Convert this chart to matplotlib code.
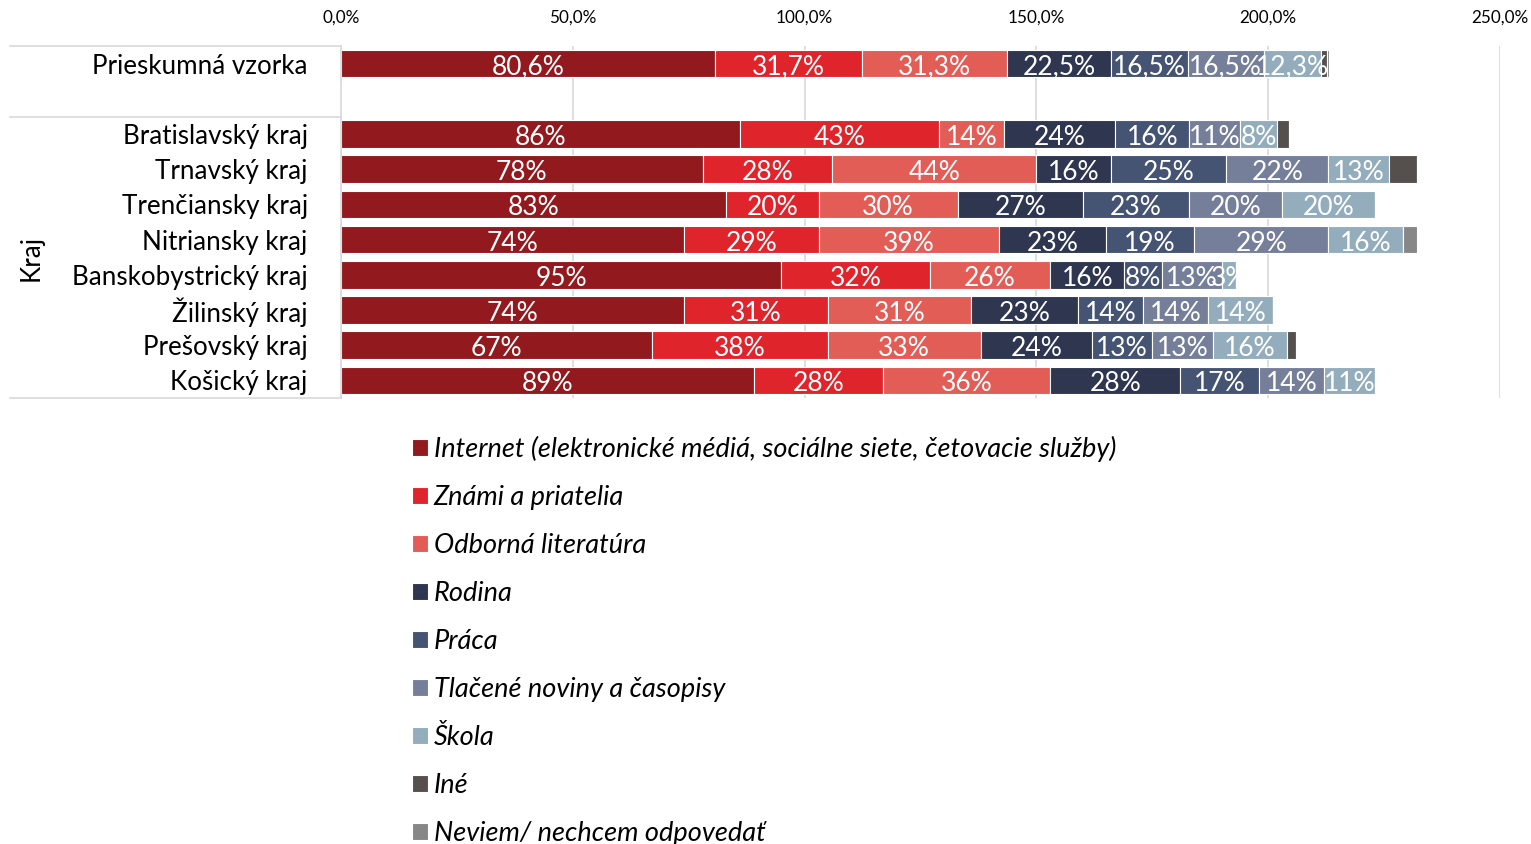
import numpy as np
import matplotlib
matplotlib.use('Agg')
import matplotlib.pyplot as plt
from matplotlib.lines import Line2D

plt.rcParams['font.family'] = ['Lato', 'DejaVu Sans']

regions = ["Prieskumná vzorka", "", "Bratislavský kraj", "Trnavský kraj", "Trenčiansky kraj",
           "Nitriansky kraj", "Banskobystrický kraj", "Žilinský kraj", "Prešovský kraj", "Košický kraj"]

series = ["Internet (elektronické médiá, sociálne siete, četovacie služby)", "Známi a priatelia",
          "Odborná literatúra", "Rodina", "Práca", "Tlačené noviny a časopisy", "Škola", "Iné",
          "Neviem/ nechcem odpovedať"]

internet = [80.6, 0, 86, 78, 83, 74, 95, 74, 67, 89]
znami = [31.7, 0, 43, 28, 20, 29, 32, 31, 38, 28]
odborna = [31.3, 0, 14, 44, 30, 39, 26, 31, 33, 36]
rodina = [22.5, 0, 24, 16, 27, 23, 16, 23, 24, 28]
praca = [16.5, 0, 16, 25, 23, 19, 8, 14, 13, 17]
tlacene = [16.5, 0, 11, 22, 20, 29, 13, 14, 13, 14]
skola = [12.3, 0, 8, 13, 20, 16, 3, 14, 16, 11]
ine = [1.3, 0, 2.5, 6, 0, 0, 0, 0, 2, 0]
neviem = [0.4, 0, 0, 0, 0, 3, 0, 0, 0, 0]

colors = ["#921A1F", "#E0242B", "#E35D57", "#2E3650", "#465473", "#767F99", "#93ADBD",
          "#55504E", "#878787"]

W, H = 1531, 844
fig = plt.figure(figsize=(W / 100, H / 100), dpi=100)
ax = fig.add_axes([341 / W, 1 - 398 / H, (1500 - 341) / W, (398 - 46) / H])

data = [internet, znami, odborna, rodina, praca, tlacene, skola, ine, neviem]
y = np.arange(len(regions))
left = np.zeros(len(regions))
for i, (vals, name, c) in enumerate(zip(data, series, colors)):
    vals = np.array(vals, dtype=float)
    ax.barh(y, vals, left=left, height=0.78, color=c, edgecolor='white', linewidth=0.8,
            label=name)
    if i < 7:
        for j, v in enumerate(vals):
            if v <= 0:
                continue
            txt = ("%.1f%%" % v).replace('.', ',') if j == 0 else "%d%%" % round(v)
            ax.text(left[j] + v / 2, y[j] + 0.1, txt, ha='center', va='center',
                    color='white', fontsize=19)
    left += vals

ax.set_xlim(0, 250)
ax.set_ylim(9.5, -0.5)
ax.set_xticks(np.arange(0, 251, 50))
ax.set_xticklabels([("%.1f%%" % t).replace('.', ',') for t in np.arange(0, 251, 50)])
ax.xaxis.tick_top()
ax.tick_params(axis='x', length=0, pad=15, labelsize=12.3)
ax.set_yticks(y)
ax.set_yticklabels(regions)
ax.tick_params(axis='y', length=0, pad=24, labelsize=18.7)
ax.grid(axis='x', color='#D9D9D9', linewidth=1.2)
ax.set_axisbelow(True)
for s in ['top', 'right', 'bottom']:
    ax.spines[s].set_visible(False)
ax.spines['left'].set_color('#D9D9D9')
ax.spines['left'].set_linewidth(1.2)

# category table lines on the left
for yy in [46, 117, 398]:
    fig.add_artist(Line2D([10 / W, 341 / W], [1 - yy / H, 1 - yy / H], color='#D9D9D9', linewidth=1.2))
fig.text(31 / W, 1 - 258 / H, "Kraj", rotation=90, ha='center', va='center', fontsize=18.7)

handles, labels = ax.get_legend_handles_labels()
fig.legend(handles, labels, loc='upper left', bbox_to_anchor=(412 / W, 1 - 436 / H), ncol=1,
           frameon=False, prop={'size': 19.5, 'style': 'italic'}, handlelength=0.58,
           handleheight=0.58, handletextpad=0.22, labelspacing=0.85, borderpad=0,
           borderaxespad=0)

fig.savefig("out.png", dpi=100)
